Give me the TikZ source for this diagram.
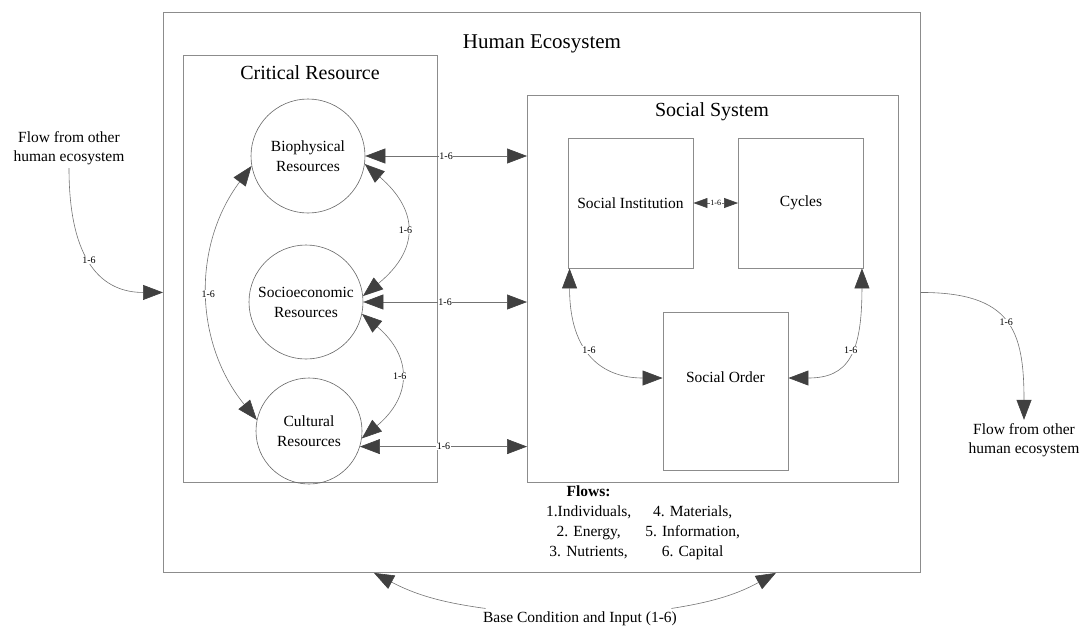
\documentclass[tikz,border=0pt]{standalone}
\usepackage{fontspec}
\setmainfont{Liberation Serif}
\usetikzlibrary{arrows.meta, positioning}

\begin{document}
\begin{tikzpicture}[
  x=1pt, y=-1pt,
  >={Triangle[length=20pt, width=15pt, color=black!75]},
  frame/.style={rectangle, draw=black!45, line width=0.9pt, anchor=north west, inner sep=0pt},
  unit/.style={rectangle, draw=black!45, line width=0.9pt, minimum width=125pt, minimum height=130pt, font=\fontsize{15.5}{18}\selectfont},
  res/.style={circle, draw=black!60, line width=0.6pt, minimum size=114pt, inner sep=0pt, align=center, font=\fontsize{15.5}{20}\selectfont},
  head/.style={font=\fontsize{20}{24}\selectfont},
  txt/.style={align=center, font=\fontsize{15.5}{19}\selectfont},
  link/.style={draw=black!55, line width=0.6pt, <->},
  short/.style={>={Triangle[length=14pt, width=10pt, color=black!75]}, draw=black!55, line width=0.6pt, <->},
  flow/.style={draw=black!55, line width=0.6pt, ->},
  tag/.style={fill=white, inner sep=0.5pt, font=\fontsize{10}{11}\selectfont},
]

\useasboundingbox (0,0) rectangle (1083,630);

\node[frame, minimum width=757pt, minimum height=560pt] (eco) at (163,12) {};
\node[frame, minimum width=254pt, minimum height=427pt] (crit) at (183,55) {};
\node[frame, minimum width=371pt, minimum height=387pt] (social) at (527,95) {};

\node[head, font=\fontsize{21}{24}\selectfont] (ecotitle) at (542,44) {Human Ecosystem};
\node[head] (crittitle) at (310,73) {Critical Resource};
\node[head] (socialtitle) at (712,112) {Social System};

\node[res] (bio) at (308,156) {Biophysical\\Resources};
\node[res] (socio) at (306,302) {Socioeconomic\\Resources};
\node[res, minimum size=106pt] (cult) at (309,431) {Cultural\\Resources};

\node[unit] (inst) at (630.5,203) {Social Institution};
\node[unit] (cycles) at (801,203) {Cycles};
\node[unit, minimum height=158pt, text depth=27pt] (order) at (725.5,391) {Social Order};

\node[txt] (flowin) at (69,148) {Flow from other\\human ecosystem};
\node[txt] (flowout) at (1024,440) {Flow from other\\human ecosystem};
\node[txt] (base) at (580,619) {Base Condition and Input (1-6)};
\node[txt, font=\fontsize{15.5}{20}\selectfont] (flows) at (643,522) {%
  \begin{tabular}{@{}c@{\hspace{14pt}}c@{}}
    \textbf{Flows:} & \\
    1.Individuals, & 4. Materials,\\
    2. Energy, & 5. Information,\\
    3. Nutrients, & 6. Capital
  \end{tabular}};

\draw[link] (bio.east) -- node[tag] {1-6} (bio.east -| social.west);
\draw[link] (socio.east) -- node[tag] {1-6} (socio.east -| social.west);
\draw[link] (cult.-17) -- node[tag] {1-6} (cult.-17 -| social.west);

\draw[link] (bio.-8) to[bend left=50, looseness=1.4] node[tag] {1-6} (socio.6);
\draw[link] (socio.-12) to[bend left=50, looseness=1.35] node[tag] {1-6} (cult.-8);
\draw[link] (bio.190) to[bend right=38] node[tag] {1-6} (cult.168);

\draw[short] (inst) -- node[tag, font=\fontsize{8}{9}\selectfont] {1-6} (cycles);
\draw[link] ([xshift=2pt]inst.south west) .. controls +(0,85) and +(-60,0) .. node[tag, pos=0.45] {1-6} ([yshift=13pt]order.west);
\draw[link] ([xshift=-2pt]cycles.south east) .. controls +(0,85) and +(60,0) .. node[tag, pos=0.45] {1-6} ([yshift=13pt]order.east);

\draw[flow] (flowin.south) .. controls +(0,95) and +(-60,0) .. node[tag, pos=0.45] {1-6} (eco.west);
\draw[flow] (eco.east) .. controls +(90,0) and +(0,-90) .. node[tag, pos=0.5] {1-6} (flowout.north);

\draw[flow] ([xshift=6pt]base.north west) to[bend left=10] ([xshift=-168pt]eco.south);
\draw[flow] ([xshift=-9pt]base.north east) to[bend right=10] ([xshift=234pt]eco.south);
\end{tikzpicture}
\end{document}
